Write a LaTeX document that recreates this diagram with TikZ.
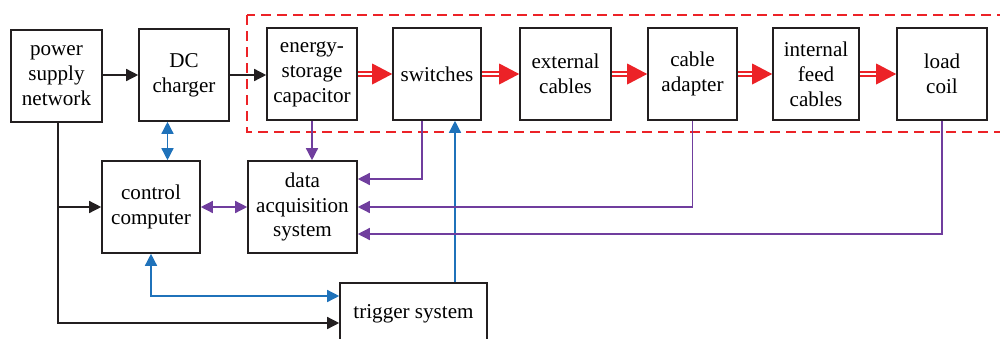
\documentclass[tikz,border=0pt]{standalone}
\usepackage{fontspec}
\setmainfont{Liberation Serif}
\usetikzlibrary{arrows.meta}
\usetikzlibrary{calc}
\usetikzlibrary{decorations.markings}

\definecolor{pwred}{RGB}{236,34,39}
\definecolor{sigblue}{RGB}{31,114,186}
\definecolor{measviolet}{RGB}{112,62,158}
\definecolor{boxline}{RGB}{35,31,32}

\begin{document}
\begin{tikzpicture}[x=0.2mm, y=-0.2mm,
    >={Triangle[length=2.4mm,width=2.4mm]},
    block/.style={draw=boxline, line width=0.9pt, align=center, inner sep=1pt,
      font=\fontsize{12}{14.2}\selectfont, minimum width=18mm, minimum height=18.4mm},
    feed/.style={draw=boxline, line width=0.8pt, ->},
    sig/.style={draw=sigblue, line width=0.8pt},
    meas/.style={draw=measviolet, line width=0.8pt},
    pulse/.style={draw=pwred, line width=0.3mm, double=white, double distance=0.45mm, shorten >=3mm,
      postaction={decorate, decoration={markings, mark=at position 1 with
        {\fill[pwred, shorten >=0pt] (0,0) -- (-4mm,2.1mm) -- (-4mm,-2.1mm) -- cycle;}}}}]
    \useasboundingbox (0,0) rectangle (1000,338);
    \draw[pwred, line width=1.1pt, dash pattern=on 2mm off 1.2mm] (247,15) rectangle (1006,132);

    \node[block, minimum width=18.2mm] (psn) at (56.5,76) {power\\supply\\network};
    \node[block] (dcc) at (184,75) {DC\\charger};
    \node[block] (esc) at (312,74) {energy-\\storage\\capacitor};
    \node[block, minimum width=17.6mm] (sw) at (437,74) {switches};
    \node[block, minimum width=18.2mm] (ext) at (565.5,74) {external\\cables};
    \node[block, minimum width=17.8mm] (cad) at (692.5,74) {cable\\adapter};
    \node[block, minimum width=17.2mm] (ifc) at (816,74) {internal\\feed\\cables};
    \node[block] (lcl) at (942,74) {load\\coil};
    \node[block, minimum width=19.6mm] (ccp) at (151,207) {control\\computer};
    \node[block, minimum width=21.8mm] (daq) at (302.5,207) {data\\acquisition\\system};
    \node[block, minimum width=29.4mm, minimum height=12.4mm] (trg) at (413.5,314) {trigger system};

    \draw[feed] (psn.east |- dcc) -- (dcc);
    \draw[feed] (dcc) -- (dcc -| esc.west);
    \coordinate (tap) at ($(psn.south)+(1.5,0)$);
    \draw[feed] (tap) |- ($(trg.west)+(0,9)$);
    \draw[feed] (tap |- ccp) -- (ccp);

    \coordinate (chg) at ($(dcc.south)!.5!(ccp.north)$);
    \draw[sig, <->] (chg |- dcc.south) -- (chg |- ccp.north);
    \draw[sig, <->] (ccp.south) |- ($(trg.west)+(0,-18)$);
    \coordinate (fire) at ($(trg.north)+(41.5,0)$);
    \draw[sig, ->] (fire) -- (fire |- sw.south);

    \draw[meas, <->] (ccp) -- (daq);
    \draw[meas, ->] (esc.south) -- (esc.south |- daq.north);
    \draw[meas, ->] ($(sw.south)+(-15,0)$) |- ($(daq.east)+(0,-28)$);
    \draw[meas, ->] (cad.south) |- (daq.east);
    \draw[meas, ->] (lcl.south) |- ($(daq.east)+(0,27)$);

    \draw[pulse] (esc) -- (sw);
    \draw[pulse] (sw) -- (ext);
    \draw[pulse] (ext) -- (cad);
    \draw[pulse] (cad) -- (ifc);
    \draw[pulse] (ifc) -- (lcl);
\end{tikzpicture}
\end{document}
